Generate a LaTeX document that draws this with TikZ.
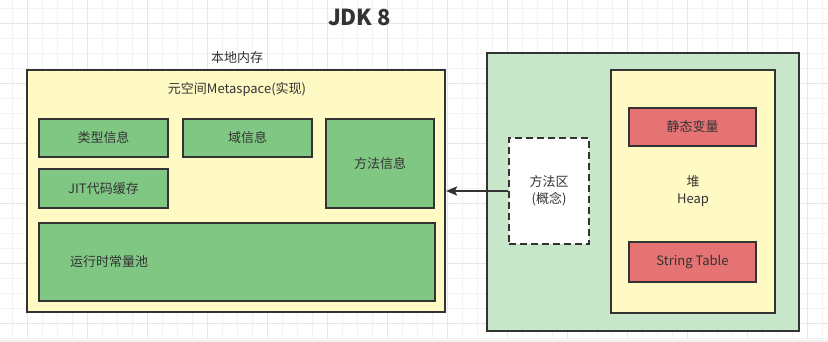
\documentclass[tikz,border=0pt]{standalone}
\usepackage{fontspec}
\setmainfont{Noto Sans CJK SC}
\usetikzlibrary{arrows.meta}
\definecolor{bd}{HTML}{333333}
\definecolor{txt}{HTML}{333333}
\definecolor{ylw}{HTML}{FFF9C4}
\definecolor{grn}{HTML}{81C784}
\definecolor{lgrn}{HTML}{C8E6C9}
\definecolor{rd}{HTML}{E57373}
\definecolor{gminor}{HTML}{F2F2F2}
\definecolor{gmajor}{HTML}{E6E6E6}
\begin{document}
\begin{tikzpicture}[x=1pt,y=-1pt,
  box/.style={draw=bd, line width=2pt, rectangle, inner sep=0pt, text=txt,
    font=\fontsize{13}{17}\selectfont, align=center},
  lbl/.style={text=txt, inner sep=0pt, font=\fontsize{13}{17}\selectfont, align=center},
  minorgrid/.style={draw=gminor, line width=0.8pt},
  majorgrid/.style={draw=gmajor, line width=0.9pt},
  arr/.style={draw=bd, line width=2pt, -{Stealth[length=11pt,width=9pt,inset=2pt]}}]
\useasboundingbox (0,0) rectangle (828,342);
\fill[white] (0,0) rectangle (828,342);
% grid
\foreach \x in {12.7,27.7,...,827.7} \draw[minorgrid] (\x,0) -- (\x,339);
\foreach \y in {8.3,23.3,...,338.3} \draw[minorgrid] (0,\y) -- (828,\y);
\foreach \x in {27.7,87.7,...,807.7} \draw[majorgrid] (\x,0) -- (\x,339);
\foreach \y in {23.3,83.3,...,323.3} \draw[majorgrid] (0,\y) -- (828,\y);
\fill[gminor] (0,339.5) rectangle (828,342);
% title
\node[lbl, anchor=base, font=\fontsize{22}{26}\bfseries] (title) at (359.5,26) {JDK 8};
% left: native memory
\node[lbl] (native) at (237,58) {本地内存};
\node[box, fill=ylw, minimum width=418pt, minimum height=242pt] (meta) at (236,191) {};
\node[lbl] (metat) at (237,89) {元空间Metaspace(实现)};
\node[box, fill=grn, minimum width=129pt, minimum height=38pt] (type) at (103.5,138) {类型信息};
\node[box, fill=grn, minimum width=129pt, minimum height=38pt] (field) at (247.5,138) {域信息};
\node[box, fill=grn, minimum width=108pt, minimum height=89pt] (method) at (380,163.5) {方法信息};
\node[box, fill=grn, minimum width=129pt, minimum height=39pt] (jit) at (103.5,188.5) {JIT代码缓存};
\node[box, fill=grn, minimum width=396pt, minimum height=78pt] (pool) at (237,262) {};
\node[lbl, anchor=west] (poolt) at (70,262) {运行时常量池};
% right: JVM
\node[box, fill=lgrn, minimum width=312pt, minimum height=278pt] (jvm) at (643,192) {};
\node[box, fill=ylw, minimum width=164pt, minimum height=243pt] (heap) at (693,191.5) {堆\\Heap};
\node[box, fill=rd, minimum width=127pt, minimum height=38pt] (static) at (692.5,127) {静态变量};
\node[box, fill=rd, minimum width=127pt, minimum height=40pt] (strtab) at (692.5,262) {String Table};
\node[box, fill=white, dash pattern=on 7pt off 4pt, minimum width=80pt, minimum height=106pt] (ma) at (549,191) {方法区\\(概念)};
% arrow
\draw[arr] (ma.west) -- (meta.east |- ma.west);
\end{tikzpicture}
\end{document}
